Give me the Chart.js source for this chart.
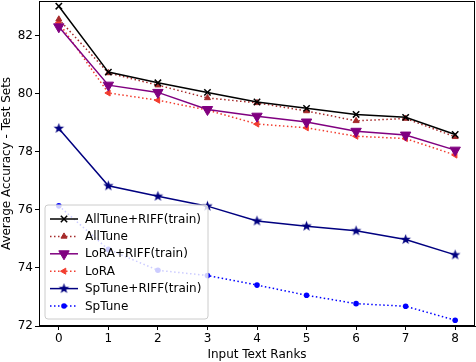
<!DOCTYPE html>
<html>
<head>
<meta charset="utf-8">
<script src="https://cdn.jsdelivr.net/npm/chart.js@4/dist/chart.umd.min.js"></script>
<style>
  html, body { margin: 0; padding: 0; background: #fff; }
  #chart { display: block; }
</style>
</head>
<body>
<canvas id="chart" width="476" height="362"></canvas>
<script>
// data
var ranks = [0, 1, 2, 3, 4, 5, 6, 7, 8];
var allTuneRiff = [83.02, 80.75, 80.38, 80.05, 79.72, 79.50, 79.29, 79.19, 78.60];
var allTune     = [82.57, 80.72, 80.30, 79.86, 79.69, 79.41, 79.07, 79.15, 78.52];
var loraRiff    = [82.31, 80.30, 80.05, 79.46, 79.23, 79.03, 78.71, 78.58, 78.06];
var lora        = [82.45, 80.03, 79.78, 79.44, 78.96, 78.83, 78.54, 78.46, 77.89];
var spTuneRiff  = [78.81, 76.83, 76.47, 76.13, 75.62, 75.44, 75.28, 74.98, 74.45];
var spTune      = [76.14, 74.64, 73.92, 73.74, 73.41, 73.06, 72.77, 72.68, 72.20];
var yTicks = [72, 74, 76, 78, 80, 82];

var FONT = "'DejaVu Sans', sans-serif";

// filled star marker (matplotlib '*')
function starMarker(color, r) {
  var c = document.createElement('canvas');
  var s = Math.ceil(r * 2 + 2);
  c.width = s; c.height = s;
  var g = c.getContext('2d');
  g.translate(s / 2, s / 2);
  g.beginPath();
  for (var i = 0; i < 10; i++) {
    var rad = i % 2 === 0 ? r : r * 0.42;
    var a = -Math.PI / 2 + i * Math.PI / 5;
    g.lineTo(rad * Math.cos(a), rad * Math.sin(a));
  }
  g.closePath();
  g.fillStyle = color;
  g.fill();
  return c;
}

function pts(arr) {
  return ranks.map(function (r, i) { return { x: r, y: arr[i] }; });
}

var series = [
  { label: 'AllTune+RIFF(train)', data: allTuneRiff, color: '#000000', dash: [], style: 'crossRot', radius: 4.5, rot: 0, bw: 1.5 },
  { label: 'AllTune', data: allTune, color: '#a52a2a', dash: [1.5, 2.5], style: 'triangle', radius: 3.5, rot: 0, bw: 1 },
  { label: 'LoRA+RIFF(train)', data: loraRiff, color: '#800080', dash: [], style: 'triangle', radius: 6, rot: 180, bw: 1 },
  { label: 'LoRA', data: lora, color: '#f23c2e', dash: [1.5, 2.5], style: 'triangle', radius: 3.5, rot: 270, bw: 1 },
  { label: 'SpTune+RIFF(train)', data: spTuneRiff, color: '#000080', dash: [], style: starMarker('#000080', 5.5), radius: 5, rot: 0, bw: 1 },
  { label: 'SpTune', data: spTune, color: '#0000ff', dash: [1.5, 2.5], style: 'circle', radius: 2.8, rot: 0, bw: 0 }
];

var datasets = series.map(function (s) {
  return {
    label: s.label,
    data: pts(s.data),
    borderColor: s.color,
    backgroundColor: s.color,
    borderWidth: 1.5,
    borderDash: s.dash,
    pointStyle: s.style,
    pointRadius: s.radius,
    pointRotation: s.rot,
    pointBorderWidth: s.bw,
    pointBackgroundColor: s.color,
    pointBorderColor: s.color,
    tension: 0,
    fill: false
  };
});

// frame around the plot like matplotlib
var framePlugin = {
  id: 'frame',
  afterDraw: function (chart) {
    var a = chart.chartArea, ctx = chart.ctx;
    ctx.save();
    ctx.strokeStyle = '#000';
    ctx.lineWidth = 1;
    ctx.strokeRect(Math.round(a.left) + 0.5, Math.round(a.top) + 0.5,
      Math.round(a.right - a.left) - 1, Math.round(a.bottom - a.top) - 1);
    ctx.restore();
  }
};

// legend drawn inside the axes, lower left
var legendPlugin = {
  id: 'boxLegend',
  afterDatasetsDraw: function (chart) {
    var ctx = chart.ctx;
    var a = chart.chartArea;
    var x0 = a.left + 6, y0 = 205, w = 163, h = 114, r = 3;
    ctx.save();
    ctx.beginPath();
    ctx.moveTo(x0 + r, y0);
    ctx.arcTo(x0 + w, y0, x0 + w, y0 + h, r);
    ctx.arcTo(x0 + w, y0 + h, x0, y0 + h, r);
    ctx.arcTo(x0, y0 + h, x0, y0, r);
    ctx.arcTo(x0, y0, x0 + w, y0, r);
    ctx.closePath();
    ctx.fillStyle = 'rgba(255,255,255,0.8)';
    ctx.fill();
    ctx.strokeStyle = '#cccccc';
    ctx.lineWidth = 1;
    ctx.stroke();

    series.forEach(function (s, i) {
      var y = 219 + i * 17.4;
      ctx.strokeStyle = s.color;
      ctx.lineWidth = 1.5;
      ctx.setLineDash(s.dash);
      ctx.beginPath();
      ctx.moveTo(x0 + 5, y);
      ctx.lineTo(x0 + 33, y);
      ctx.stroke();
      ctx.setLineDash([]);
      ctx.fillStyle = s.color;
      ctx.lineWidth = s.bw;
      if (Chart.helpers && Chart.helpers.drawPoint) {
        Chart.helpers.drawPoint(ctx, {
          pointStyle: s.style, radius: s.radius, rotation: s.rot, borderWidth: s.bw
        }, x0 + 19, y);
      }
      ctx.fillStyle = '#000';
      ctx.font = '12px ' + FONT;
      ctx.textBaseline = 'middle';
      ctx.fillText(s.label, x0 + 40, y + 0.5);
    });
    ctx.restore();
  }
};

new Chart(document.getElementById('chart'), {
  type: 'line',
  data: { datasets: datasets },
  plugins: [framePlugin, legendPlugin],
  options: {
    responsive: false,
    animation: false,
    layout: { autoPadding: false, padding: { top: 1, right: 1, left: 0, bottom: 0 } },
    plugins: { legend: { display: false }, tooltip: { enabled: false } },
    scales: {
      x: {
        type: 'linear',
        min: -0.4,
        max: 8.4,
        afterBuildTicks: function (scale) {
          scale.ticks = ranks.map(function (v) { return { value: v }; });
        },
        afterFit: function (scale) {
          scale.height = 36;
          scale.paddingLeft = 0;
          scale.paddingRight = 0;
        },
        grid: { display: true, drawOnChartArea: false, tickLength: 4, color: '#000', tickColor: '#000' },
        border: { display: true, color: '#000', width: 1 },
        ticks: { color: '#000', font: { family: FONT, size: 12 }, padding: 2, maxRotation: 0 },
        title: { display: true, text: 'Input Text Ranks', color: '#000', font: { family: FONT, size: 12 }, padding: { top: 0, bottom: 0 } }
      },
      y: {
        min: 72,
        max: 83.2,
        afterBuildTicks: function (scale) {
          scale.ticks = yTicks.map(function (v) { return { value: v }; });
        },
        afterFit: function (scale) {
          scale.width = 39;
          scale.paddingTop = 0;
          scale.paddingBottom = 0;
        },
        grid: { display: true, drawOnChartArea: false, tickLength: 4, color: '#000', tickColor: '#000' },
        border: { display: true, color: '#000', width: 1 },
        ticks: { color: '#000', font: { family: FONT, size: 12 }, padding: 2 },
        title: { display: true, text: 'Average Accuracy - Test Sets', color: '#000', font: { family: FONT, size: 12 }, padding: { top: 0, bottom: 0 } }
      }
    }
  }
});
</script>
</body>
</html>
